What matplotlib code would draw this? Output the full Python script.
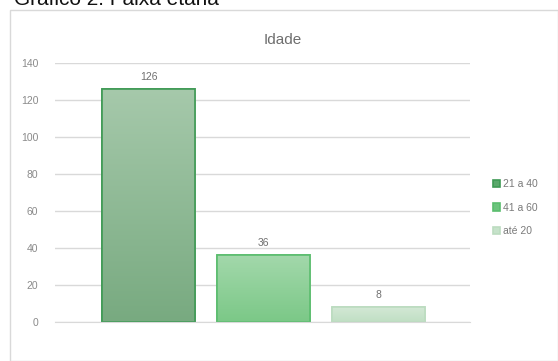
import numpy as np
import matplotlib
matplotlib.use("Agg")
import matplotlib.pyplot as plt
from matplotlib.colors import LinearSegmentedColormap
from matplotlib.patches import Rectangle

series = ["21 a 40", "41 a 60", "até 20"]
values = [126, 36, 8]
yticks = [0, 20, 40, 60, 80, 100, 120, 140]

tops = ["#a6c9ab", "#a3d8ab", "#d3e8d5"]
bottoms = ["#78aa80", "#7bc887", "#c0dfc4"]
edges = ["#3f9a55", "#5bbd6e", "#bcdcc0"]
legend_col = ["#5aa86b", "#6cc47d", "#c6e2ca"]

fig = plt.figure(figsize=(5.58, 3.61), dpi=100)
W, H = 558, 361

# outer chart frame
fig.patches.append(Rectangle((10 / W, 0), (W - 10) / W, 1 - 10 / H, transform=fig.transFigure,
                             fill=False, edgecolor="#d9d9d9", linewidth=1.0))

# heading above the chart, cut off by the top edge as in the source picture
fig.text(14 / W, 1 - 9 / H, "Gráfico 2: Faixa etária", fontsize=15, color="#111111",
         ha="left", va="bottom", family="Liberation Sans")

ax = fig.add_axes([55 / W, 39 / H, 415 / W, 259 / H])
ax.set_yticks(yticks)
ax.set_xticks([])
ax.grid(axis="y", color="#d9d9d9", linewidth=1.0)
ax.set_axisbelow(True)
for s in ax.spines.values():
    s.set_visible(False)
ax.spines["bottom"].set_visible(True)
ax.spines["bottom"].set_color("#d9d9d9")
ax.tick_params(axis="y", length=0, labelsize=7.5, labelcolor="#8a8a8a", pad=12)
for t in ax.get_yticklabels():
    t.set_family("Liberation Sans")

width = 0.81
grad = np.linspace(1, 0, 256).reshape(-1, 1)
for i, (name, v) in enumerate(zip(series, values)):
    bar = ax.bar(i, v, width=width, color=legend_col[i], edgecolor=edges[i],
                 linewidth=1.2, label=name, zorder=2)[0]
    cmap = LinearSegmentedColormap.from_list("g%d" % i, [bottoms[i], tops[i]])
    im = ax.imshow(grad, cmap=cmap, aspect="auto", zorder=2.1,
                   extent=[i - width / 2, i + width / 2, 0, v])
    im.set_clip_path(bar)
    ax.add_patch(Rectangle((i - width / 2, 0), width, v, fill=False,
                           edgecolor=edges[i], linewidth=1.2, zorder=2.2))
    ax.text(i, v + 4, str(v), ha="center", va="bottom", fontsize=7.5,
            color="#707070", family="Liberation Sans")
ax.set_xlim(-0.813, 2.796)
ax.set_ylim(0, 140)

ax.set_title("Idade", fontsize=11, color="#6e6e6e", pad=14, family="Liberation Sans",
             x=(283 - 55) / 415)

leg = ax.legend(loc="upper left", bbox_to_anchor=(489 / W, 1 - 175 / H), bbox_transform=fig.transFigure,
                frameon=False, fontsize=7.5, handlelength=0.7, handleheight=0.7,
                handletextpad=0.2, labelspacing=1.3, borderaxespad=0)
for t in leg.get_texts():
    t.set_color("#7a7a7a")
    t.set_family("Liberation Sans")

fig.savefig("out.png", dpi=100)
